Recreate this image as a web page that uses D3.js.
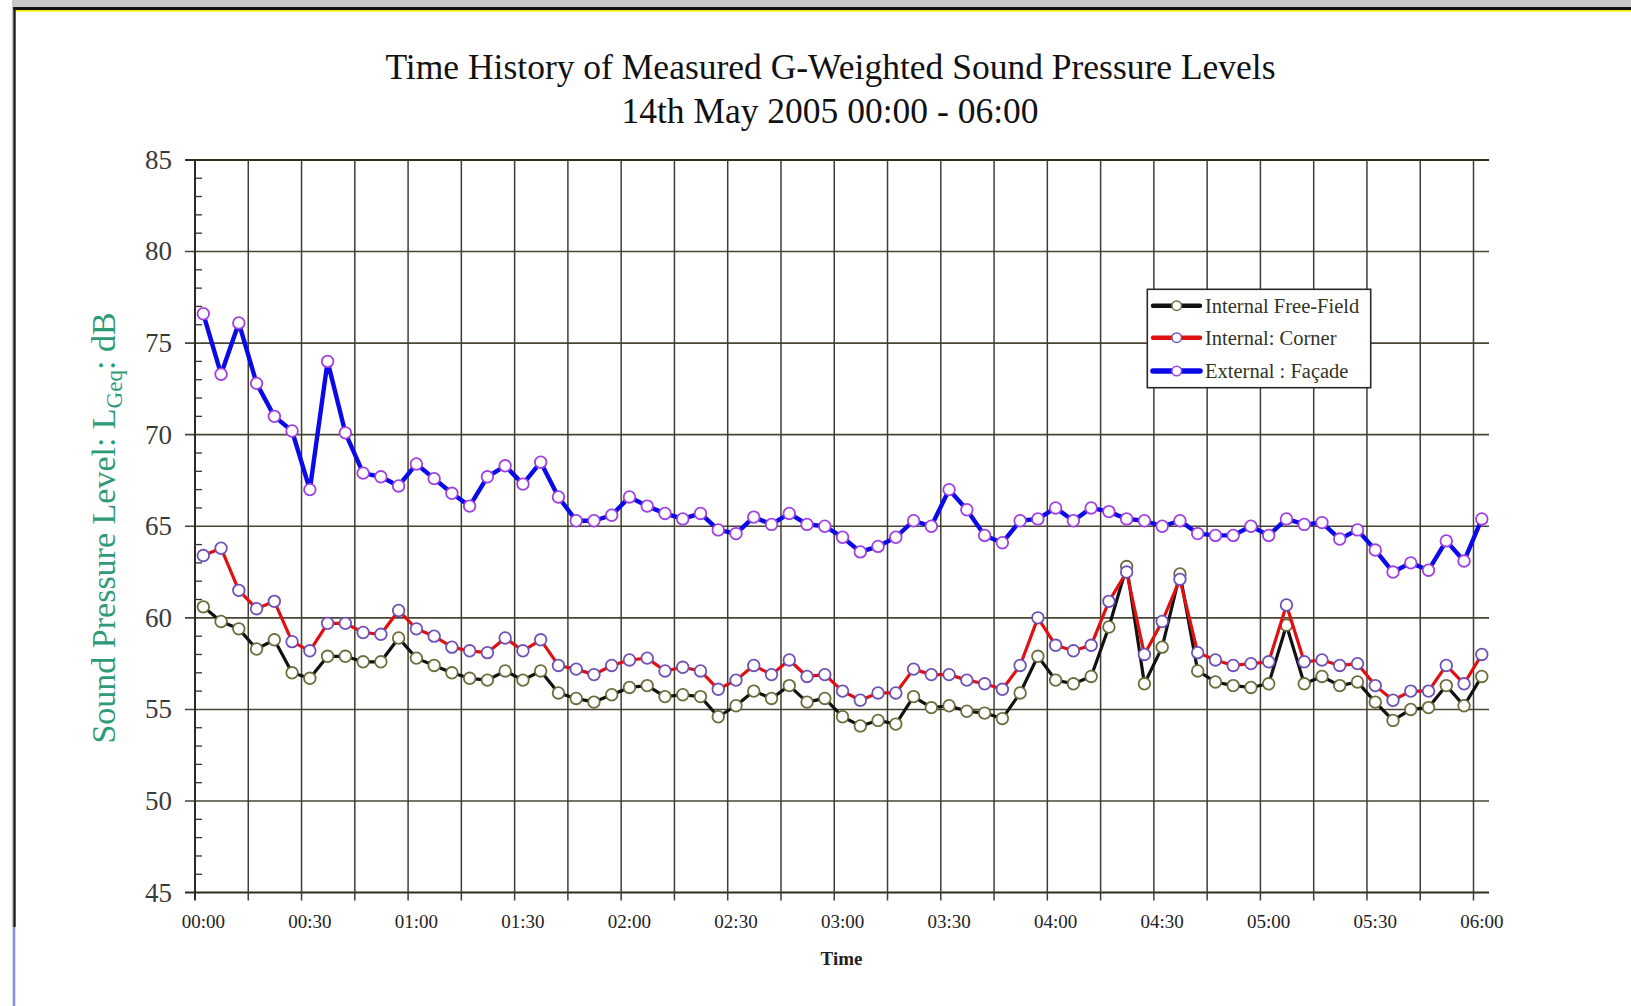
<!DOCTYPE html>
<html><head><meta charset="utf-8">
<script src="https://cdn.jsdelivr.net/npm/d3@7"></script>
<style>html,body{margin:0;padding:0;background:#fff;overflow:hidden;} svg{display:block;}</style>
</head><body>
<svg id="chart" width="1631" height="1006"></svg>
<script>
// ---- data (5-minute LGeq values, 00:00 - 06:00) ----
const minutes = d3.range(0, 361, 5);
const freeField = [60.6,59.8,59.4,58.3,58.8,57.0,56.7,57.9,57.9,57.6,57.6,58.9,57.8,57.4,57.0,56.7,56.6,57.1,56.6,57.1,
  55.9,55.6,55.4,55.8,56.2,56.3,55.7,55.8,55.7,54.6,55.2,56.0,55.6,56.3,55.4,55.6,54.6,54.1,54.4,54.2,
  55.7,55.1,55.2,54.9,54.8,54.5,55.9,57.9,56.6,56.4,56.8,59.5,62.8,56.4,58.4,62.4,57.1,56.5,56.3,56.2,
  56.4,59.6,56.4,56.8,56.3,56.5,55.4,54.4,55.0,55.1,56.3,55.2,56.8];
const corner = [63.4,63.8,61.5,60.5,60.9,58.7,58.2,59.7,59.7,59.2,59.1,60.4,59.4,59.0,58.4,58.2,58.1,58.9,58.2,58.8,
  57.4,57.2,56.9,57.4,57.7,57.8,57.1,57.3,57.1,56.1,56.6,57.4,56.9,57.7,56.8,56.9,56.0,55.5,55.9,55.9,
  57.2,56.9,56.9,56.6,56.4,56.1,57.4,60.0,58.5,58.2,58.5,60.9,62.5,58.0,59.8,62.1,58.1,57.7,57.4,57.5,
  57.6,60.7,57.6,57.7,57.4,57.5,56.3,55.5,56.0,56.0,57.4,56.4,58.0];
const facade = [76.6,73.3,76.1,72.8,71.0,70.2,67.0,74.0,70.1,67.9,67.7,67.2,68.4,67.6,66.8,66.1,67.7,68.3,67.3,68.5,
  66.6,65.3,65.3,65.6,66.6,66.1,65.7,65.4,65.7,64.8,64.6,65.5,65.1,65.7,65.1,65.0,64.4,63.6,63.9,64.4,
  65.3,65.0,67.0,65.9,64.5,64.1,65.3,65.4,66.0,65.3,66.0,65.8,65.4,65.3,65.0,65.3,64.6,64.5,64.5,65.0,
  64.5,65.4,65.1,65.2,64.3,64.8,63.7,62.5,63.0,62.6,64.2,63.1,65.4];
const seriesNames = ["Internal Free-Field", "Internal: Corner", "External : Façade"];
const xTickMinutes = [0,30,60,90,120,150,180,210,240,270,300,330,360];
const xTickLabels = ["00:00","00:30","01:00","01:30","02:00","02:30","03:00","03:30","04:00","04:30","05:00","05:30","06:00"];
const gridMinutes = d3.range(0, 361, 15);
const yTicks = [45,50,55,60,65,70,75,80,85];
const yMinor = d3.range(45, 86, 1);

// ---- layout ----
const svg = d3.select("#chart");
const x = d3.scaleLinear().domain([0, 360]).range([203.3, 1481.8]);
const y = d3.scaleLinear().domain([45, 85]).range([892.6, 159.9]);
const gridShift = -8.3;
const plotLeft = 195, plotRight = 1489, gridLeft = 185;
const serif = "'Liberation Serif','Times New Roman',Times,serif";

// page frame decoration
svg.append("rect").attr("x", 12).attr("y", 0).attr("width", 1619).attr("height", 7).attr("fill", "#c8c8c8");
svg.append("rect").attr("x", 12).attr("y", 7).attr("width", 1619).attr("height", 3).attr("fill", "#111");
svg.append("rect").attr("x", 15).attr("y", 10).attr("width", 1616).attr("height", 1.6).attr("fill", "#f2f200");
svg.append("rect").attr("x", 11.7).attr("y", 7).attr("width", 1.6).attr("height", 920).attr("fill", "#c8c8c8");
svg.append("rect").attr("x", 13.3).attr("y", 7).attr("width", 2.4).attr("height", 920).attr("fill", "#1a1a1a");
svg.append("rect").attr("x", 12.7).attr("y", 927).attr("width", 2.6).attr("height", 79).attr("fill", "#8a90d8");

// title
svg.append("text").attr("x", 830.5).attr("y", 79).attr("text-anchor", "middle")
  .attr("font-family", serif).attr("font-size", 35.5).attr("fill", "#111")
  .text("Time History of Measured G-Weighted Sound Pressure Levels");
svg.append("text").attr("x", 830).attr("y", 123).attr("text-anchor", "middle")
  .attr("font-family", serif).attr("font-size", 35.5).attr("fill", "#111")
  .text("14th May 2005 00:00 - 06:00");

// grid: horizontal
const g = svg.append("g");
g.selectAll("line.h").data(yTicks).join("line")
  .attr("x1", gridLeft).attr("x2", plotRight)
  .attr("y1", d => y(d)).attr("y2", d => y(d))
  .attr("stroke", d => (d === 45 || d === 85) ? "#2e2e1e" : "#4a4434")
  .attr("stroke-width", d => (d === 45 || d === 85) ? 2 : 1.6);
// grid: vertical
g.selectAll("line.v").data(gridMinutes).join("line")
  .attr("x1", d => x(d) + gridShift).attr("x2", d => x(d) + gridShift)
  .attr("y1", y(85)).attr("y2", y(45) + 8)
  .attr("stroke", (d, i) => i === 0 ? "#2a2a2a" : "#3e3e30")
  .attr("stroke-width", (d, i) => i === 0 ? 2 : 1.5);
// minor y ticks
g.selectAll("line.m").data(yMinor.filter(v => v % 5 !== 0)).join("line")
  .attr("x1", plotLeft).attr("x2", plotLeft + 7)
  .attr("y1", d => y(d)).attr("y2", d => y(d))
  .attr("stroke", "#333").attr("stroke-width", 1.3);

// y tick labels
svg.append("g").selectAll("text").data(yTicks).join("text")
  .attr("x", 172).attr("y", d => y(d) + 9).attr("text-anchor", "end")
  .attr("font-family", serif).attr("font-size", 27).attr("fill", "#3a3a3a")
  .text(d => d);

// x tick labels
svg.append("g").selectAll("text").data(xTickMinutes).join("text")
  .attr("x", d => x(d)).attr("y", 928).attr("text-anchor", "middle")
  .attr("font-family", serif).attr("font-size", 19).attr("fill", "#222")
  .text((d, i) => xTickLabels[i]);

// axis titles
svg.append("text").attr("x", 841.5).attr("y", 965).attr("text-anchor", "middle")
  .attr("font-family", serif).attr("font-size", 19).attr("font-weight", "bold").attr("fill", "#222")
  .text("Time");
const yl = svg.append("text").attr("transform", "translate(115,528) rotate(-90)")
  .attr("text-anchor", "middle").attr("font-family", serif).attr("font-size", 34).attr("fill", "#2f9a78");
yl.append("tspan").text("Sound Pressure Level: L");
yl.append("tspan").attr("font-size", 23).attr("dy", 7).text("Geq");
yl.append("tspan").attr("dy", -7).text(": dB");

// series
const series = [
  {name: seriesNames[0], values: freeField, color: "#111", width: 3.2, ring: "#6c6c3c"},
  {name: seriesNames[1], values: corner, color: "#e01010", width: 3.2, ring: "#7050b8"},
  {name: seriesNames[2], values: facade, color: "#0a0ae8", width: 4.4, ring: "#a040e0"}
];
const line = d3.line().x((d, i) => x(minutes[i])).y(d => y(d));
series.forEach(s => {
  svg.append("path").datum(s.values).attr("d", line)
    .attr("fill", "none").attr("stroke", s.color).attr("stroke-width", s.width)
    .attr("stroke-linejoin", "round").attr("stroke-linecap", "round");
  svg.append("g").selectAll("circle").data(s.values).join("circle")
    .attr("cx", (d, i) => x(minutes[i])).attr("cy", d => y(d)).attr("r", 5.8)
    .attr("fill", "#fff").attr("stroke", s.ring).attr("stroke-width", 1.8);
});

// legend
const lg = svg.append("g");
lg.append("rect").attr("x", 1147.3).attr("y", 289.3).attr("width", 223.4).attr("height", 98.4)
  .attr("fill", "#fff").attr("stroke", "#2a2a2a").attr("stroke-width", 1.6);
const rows = [305.7, 337.7, 371.0];
series.forEach((s, i) => {
  lg.append("line").attr("x1", 1153).attr("x2", 1200).attr("y1", rows[i]).attr("y2", rows[i])
    .attr("stroke", s.color).attr("stroke-width", s.width + 1.2).attr("stroke-linecap", "round");
  lg.append("circle").attr("cx", 1176.7).attr("cy", rows[i]).attr("r", 4.8)
    .attr("fill", "#fff").attr("stroke", s.ring).attr("stroke-width", 1.5);
  lg.append("text").attr("x", 1205).attr("y", rows[i] + 7)
    .attr("font-family", serif).attr("font-size", 20.5).attr("fill", "#33331f")
    .text(s.name);
});
</script>
</body></html>
